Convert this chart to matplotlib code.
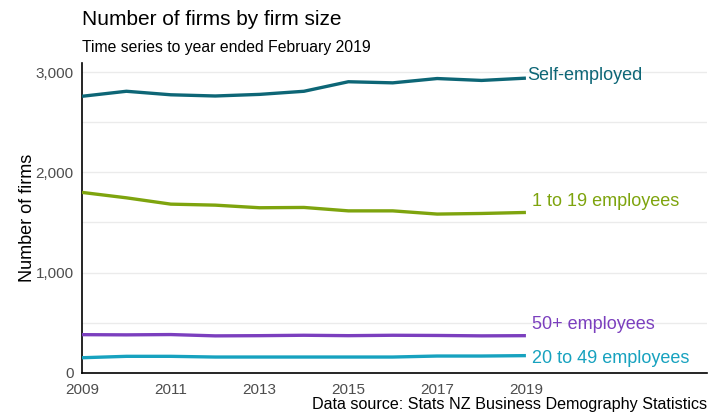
import matplotlib.pyplot as plt
import numpy as np

plt.rcParams["font.family"] = ["Liberation Sans", "DejaVu Sans"]

# ---- Data ----
years = list(range(2009, 2020))
self_employed = [2758, 2808, 2773, 2761, 2777, 2808, 2903, 2892, 2935, 2916, 2939]
emp_1_19 = [1800, 1746, 1683, 1673, 1647, 1650, 1616, 1616, 1584, 1590, 1600]
emp_50_plus = [382, 380, 383, 370, 372, 376, 372, 376, 374, 370, 372]
emp_20_49 = [152, 166, 166, 159, 159, 159, 159, 159, 169, 169, 173]

series = [
    ("Self-employed", self_employed, "#0d6676", 30),
    ("1 to 19 employees", emp_1_19, "#7ea40e", 113),
    ("50+ employees", emp_50_plus, "#7b3fbe", 116),
    ("20 to 49 employees", emp_20_49, "#17a2bf", -33),
]

fig = plt.figure(figsize=(7.2, 4.16), dpi=100)
ax = fig.add_axes([0.1139, 0.1034, 0.8681, 0.7452])

for name, vals, color, dy in series:
    ax.plot(years, vals, color=color, lw=2.4, solid_capstyle="butt", zorder=3)
    x_lab = years[-1] + (0.02 if name == "Self-employed" else 0.13)
    ax.text(x_lab, vals[-1] + dy, name, color=color, fontsize=13,
            va="center", ha="left", zorder=4)

ax.set_xlim(2009, 2023.08)
ax.set_ylim(0, 3090)
ax.set_xticks(range(2009, 2020, 2))
ax.set_yticks([0, 1000, 2000, 3000])
ax.set_yticklabels(["0", "1,000", "2,000", "3,000"])
ax.set_yticks(np.arange(500, 3001, 500), minor=True)
ax.grid(True, which="both", axis="y", color="#ebebeb", lw=1, zorder=0)
ax.tick_params(axis="both", length=0, labelsize=11, colors="#4d4d4d")
ax.tick_params(axis="y", which="minor", length=0)
ax.tick_params(axis="y", pad=6)
ax.tick_params(axis="x", pad=7)

for side in ["top", "right"]:
    ax.spines[side].set_visible(False)
for side in ["left", "bottom"]:
    ax.spines[side].set_color("black")
    ax.spines[side].set_linewidth(1.2)

ax.set_ylabel("Number of firms", fontsize=13, color="black", labelpad=0)

fig.text(0.1139, 0.94, "Number of firms by firm size", fontsize=15, ha="left", va="baseline")
fig.text(0.1139, 0.876, "Time series to year ended February 2019", fontsize=11.3, ha="left", va="baseline")
fig.text(0.982, 0.016, "Data source: Stats NZ Business Demography Statistics", fontsize=11.6,
         ha="right", va="baseline")

fig.savefig("out.png", dpi=100)
